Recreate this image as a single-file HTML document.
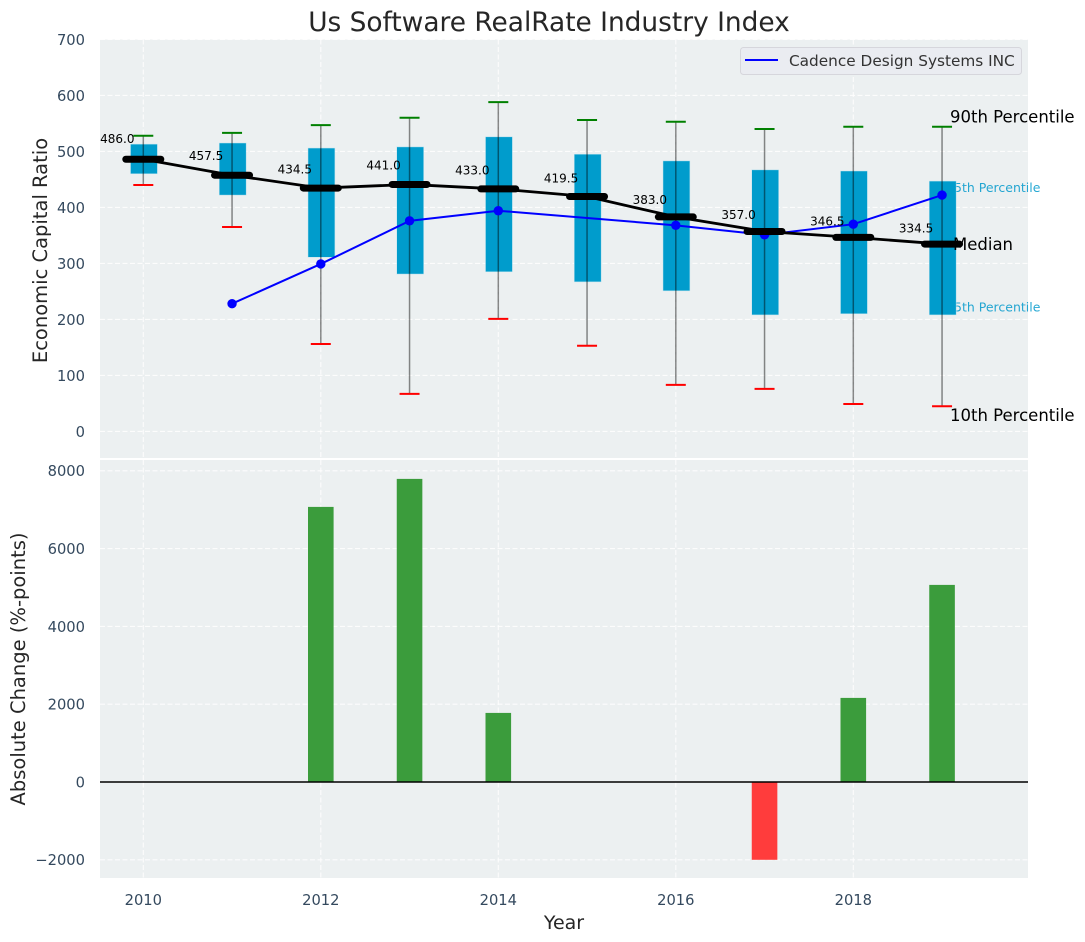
<!DOCTYPE html>
<html>
<head>
<meta charset="utf-8">
<title>Us Software RealRate Industry Index</title>
<style>
html,body{margin:0;padding:0;background:#fff;}
svg{display:block;font-family:"DejaVu Sans","Liberation Sans",sans-serif;}
</style>
</head>
<body>
<svg id="chart" width="1085" height="942" viewBox="0 0 1085 942" xmlns="http://www.w3.org/2000/svg"></svg>
<script>
const years = [2010, 2011, 2012, 2013, 2014, 2015, 2016, 2017, 2018, 2019];
const medians = [486.0, 457.5, 434.5, 441.0, 433.0, 419.5, 383.0, 357.0, 346.5, 334.5];
const p90 = [528, 533, 547, 560, 588, 556, 553, 540, 544, 544];
const p75 = [513, 515, 506, 508, 526, 495, 483, 467, 465, 447];
const p25 = [460, 422, 311, 281, 285, 267, 251, 208, 210, 208];
const p10 = [440, 365, 156, 67, 201, 153, 83, 76, 49, 45];
const company = [null, 228, 299, 376, 394, null, 368, 351, 370, 422];
const changes = [0, 0, 7072, 7792, 1776, 0, 0, -2000, 2162, 5067];
const xTicks = [2010, 2012, 2014, 2016, 2018];
const topTicks = [0, 100, 200, 300, 400, 500, 600, 700];
const bottomTicks = [-2000, 0, 2000, 4000, 6000, 8000];

const NS = 'http://www.w3.org/2000/svg';
const svg = document.getElementById('chart');
const left = 100, right = 1028;
const topPanelY = 39.5, topPanelB = 458, botPanelY = 460, botPanelB = 878;
const x = v => 143.3 + (v - 2010) * 88.75;
const yTop = v => 431.4 - v * 0.56;
const yBot = v => 782 - v * 0.0389;

function mk(tag, props, parent) {
  const el = document.createElementNS(NS, tag);
  for (const k in props) el.setAttribute(k, props[k]);
  (parent || svg).appendChild(el);
  return el;
}
function group(name) {
  const g = mk('g', {});
  
  
  return g;
}
function label(str, props, parent) {
  const t = mk('text', props, parent);
  t.textContent = str;
  return t;
}

/* panels */
const panels = group('plot-panels');
const topPanel = mk('rect', {x: left, y: topPanelY, width: right - left, height: topPanelB - topPanelY, fill: '#ecf0f1'}, panels);


const botPanel = mk('rect', {x: left, y: botPanelY, width: right - left, height: botPanelB - botPanelY, fill: '#ecf0f1'}, panels);



/* grid */
const grid = group('grid-lines');
const gridStyle = {stroke: '#ffffff', 'stroke-width': 1.1, 'stroke-dasharray': '5 2.5', opacity: 0.85};
topTicks.forEach(v => {
  const l = mk('line', Object.assign({x1: left, x2: right, y1: yTop(v), y2: yTop(v)}, gridStyle), grid);
  
  
});
bottomTicks.forEach(v => {
  const l = mk('line', Object.assign({x1: left, x2: right, y1: yBot(v), y2: yBot(v)}, gridStyle), grid);
  
  
});
xTicks.forEach(v => {
  const a = mk('line', Object.assign({x1: x(v), x2: x(v), y1: topPanelY, y2: topPanelB}, gridStyle), grid);
  
  
  const b = mk('line', Object.assign({x1: x(v), x2: x(v), y1: botPanelY, y2: botPanelB}, gridStyle), grid);
  
  
});

/* tick labels */
const ticks = group('tick-labels');
const tickStyle = {fill: '#34495e', 'font-size': 14.7};
topTicks.forEach(v => {
  const t = label(String(v), Object.assign({x: 85, y: yTop(v) + 5.4, 'text-anchor': 'end'}, tickStyle), ticks);
  
  
});
bottomTicks.forEach(v => {
  const t = label(String(v).replace('-', '\u2212'), Object.assign({x: 85, y: yBot(v) + 5.4, 'text-anchor': 'end'}, tickStyle), ticks);
  
  
});
xTicks.forEach(v => {
  const t = label(String(v), Object.assign({x: x(v), y: 905, 'text-anchor': 'middle'}, tickStyle), ticks);
  
  
});

/* percentile labels placed under the boxes */
const last = years.length - 1;
const p75Label = label('75th Percentile', {x: x(years[last]) + 4, y: yTop(p75[last]) + 11, 'font-size': 12.5, fill: '#0099cc', opacity: 0.85});


const p25Label = label('25th Percentile', {x: x(years[last]) + 4, y: yTop(p25[last]) - 3.5, 'font-size': 12.5, fill: '#0099cc', opacity: 0.85});



/* boxes */
const boxes = group('percentile-boxes');
years.forEach((yr, i) => {
  const r = mk('rect', {x: x(yr) - 13.3 + 0.5, y: yTop(p75[i]), width: 26.9, height: yTop(p25[i]) - yTop(p75[i]), fill: '#009ccc', stroke: '#bfe3ee', 'stroke-width': 0.5}, boxes);
  
  
});

/* whiskers and caps */
const whiskers = group('whiskers');
years.forEach((yr, i) => {
  const w = mk('line', {x1: x(yr), x2: x(yr), y1: yTop(p90[i]), y2: yTop(p10[i]), stroke: '#000', 'stroke-width': 1.5, opacity: 0.45}, whiskers);
  
  
  const c1 = mk('line', {x1: x(yr) - 10, x2: x(yr) + 10, y1: yTop(p90[i]), y2: yTop(p90[i]), stroke: '#008000', 'stroke-width': 2}, whiskers);
  
  
  const c2 = mk('line', {x1: x(yr) - 10, x2: x(yr) + 10, y1: yTop(p10[i]), y2: yTop(p10[i]), stroke: '#ff0000', 'stroke-width': 2}, whiskers);
  
  
});

/* company line (null years are bridged) */
const companySeries = group('company-series');
const companyPts = years.map((yr, i) => company[i] === null ? null : [x(yr), yTop(company[i])]).filter(Boolean);
const companyLine = mk('polyline', {points: companyPts.map(p => p.join(',')).join(' '), fill: 'none', stroke: '#0000ff', 'stroke-width': 2}, companySeries);


companyPts.forEach(p => {
  const m = mk('circle', {cx: p[0], cy: p[1], r: 4.7, fill: '#0000ff'}, companySeries);
  
  
});

/* median line */
const medianSeries = group('median-series');
const medianLine = mk('polyline', {points: years.map((yr, i) => x(yr) + ',' + yTop(medians[i])).join(' '), fill: 'none', stroke: '#000', 'stroke-width': 2.8}, medianSeries);


years.forEach((yr, i) => {
  const m = mk('line', {x1: x(yr) - 17.5, x2: x(yr) + 17.5, y1: yTop(medians[i]), y2: yTop(medians[i]), stroke: '#000', 'stroke-width': 7, 'stroke-linecap': 'round'}, medianSeries);
  
  
  const t = label(medians[i].toFixed(1), {x: x(yr) - 43.2, y: yTop(medians[i] * 1.05) - 2.4, 'font-size': 12, fill: '#000'}, medianSeries);
  
  
});

/* right side annotations */
const p90Label = label('90th Percentile', {x: 950, y: 122.7, 'font-size': 16.5, fill: '#000'});


const medLabel = label('Median', {x: 953, y: 250, 'font-size': 16.5, fill: '#000'});


const p10Label = label('10th Percentile', {x: 950, y: 421, 'font-size': 16.5, fill: '#000'});



/* bars */
const bars = group('change-bars');
years.forEach((yr, i) => {
  if (changes[i] === 0) return;
  const y0 = yBot(Math.max(changes[i], 0));
  const y1 = yBot(Math.min(changes[i], 0));
  const b = mk('rect', {x: x(yr) - 12.8, y: y0, width: 25.6, height: y1 - y0, fill: changes[i] >= 0 ? '#3b9c3c' : '#ff3c3c'}, bars);
  
  
});
const zero = mk('line', {x1: left, x2: right, y1: yBot(0), y2: yBot(0), stroke: '#000', 'stroke-width': 1.5});



/* legend */
const legend = group('legend');
const legendBox = mk('rect', {x: 740.5, y: 47.5, width: 281, height: 27, rx: 3, fill: '#eaecf1', stroke: '#d6d6dc', 'stroke-width': 1}, legend);


const legendLine = mk('line', {x1: 745, x2: 778, y1: 60, y2: 60, stroke: '#0000ff', 'stroke-width': 2}, legend);


const legendText = label('Cadence Design Systems INC', {x: 789, y: 66, 'font-size': 15.3, fill: '#333'}, legend);



/* titles */
const title = label('Us Software RealRate Industry Index', {x: 549, y: 31, 'font-size': 26.4, 'text-anchor': 'middle', fill: '#262626'});


const yTitleTop = label('Economic Capital Ratio', {transform: 'translate(47,250.5) rotate(-90)', 'font-size': 19.5, 'text-anchor': 'middle', fill: '#262626'});


const yTitleBot = label('Absolute Change (%-points)', {transform: 'translate(25,669) rotate(-90)', 'font-size': 19.5, 'text-anchor': 'middle', fill: '#262626'});


const xTitle = label('Year', {x: 564, y: 929, 'font-size': 19, 'text-anchor': 'middle', fill: '#262626'});


</script>
</body>
</html>
